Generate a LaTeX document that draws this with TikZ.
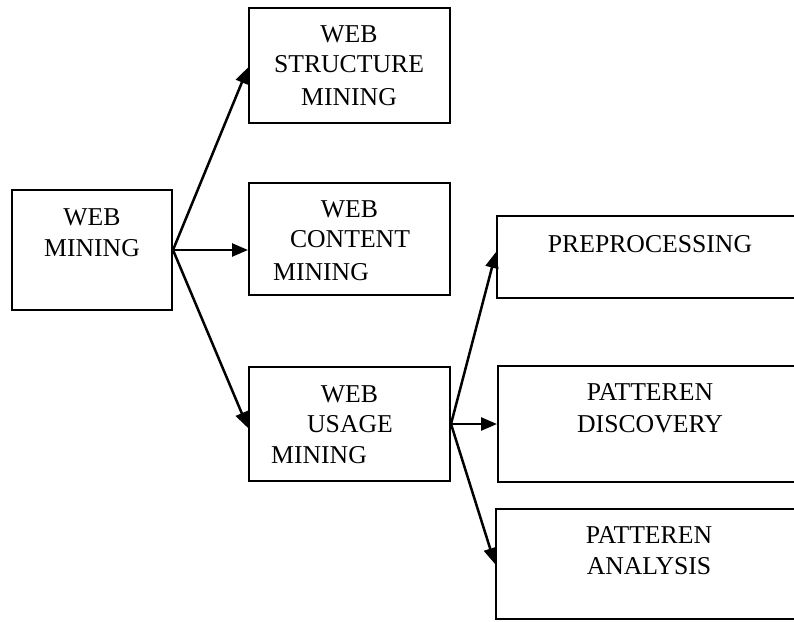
\documentclass[tikz,border=0pt]{standalone}
\usepackage{fontspec}
\setmainfont{Liberation Serif}
\usetikzlibrary{arrows.meta}
\begin{document}
\begin{tikzpicture}[x=1pt,y=-1pt,
  box/.style={draw=black,line width=2pt,inner sep=0pt,rectangle},
  txt/.style={inner sep=0pt,anchor=base,font=\fontsize{25.7}{31}\selectfont},
  txtl/.style={txt,anchor=base west},
  arr/.style={line width=2.5pt,-{Triangle[length=16pt,width=13pt]}}]
\useasboundingbox (0,0) rectangle (794,621);
\clip (0,0) rectangle (794,621);
% boxes
\node[box,minimum width=160pt,minimum height=120pt] (wm) at (92,250) {};
\node[box,minimum width=201pt,minimum height=115pt] (ws) at (349.5,65.5) {};
\node[box,minimum width=201pt,minimum height=112pt] (wc) at (349.5,239) {};
\node[box,minimum width=201pt,minimum height=114pt] (wu) at (349.5,424) {};
\node[box,minimum width=303pt,minimum height=82pt] (pp) at (648.5,257) {};
\node[box,minimum width=302pt,minimum height=116pt] (pd) at (649,424) {};
\node[box,minimum width=304pt,minimum height=110pt] (pa) at (648,564) {};
% texts
\node[txt] (wm1) at (92,225) {WEB};
\node[txt] (wm2) at (92,256) {MINING};
\node[txt] (ws1) at (349,42) {WEB};
\node[txt] (ws2) at (349,72) {STRUCTURE};
\node[txt] (ws3) at (349,105) {MINING};
\node[txt] (wc1) at (349.5,217) {WEB};
\node[txt] (wc2) at (350,247) {CONTENT};
\node[txtl] (wc3) at (273,280) {MINING};
\node[txt] (wu1) at (349.5,402) {WEB};
\node[txt] (wu2) at (350,432) {USAGE};
\node[txtl] (wu3) at (271,463) {MINING};
\node[txt] (pp1) at (650,252) {PREPROCESSING};
\node[txt] (pd1) at (650,400) {PATTEREN};
\node[txt] (pd2) at (650,432) {DISCOVERY};
\node[txt] (pa1) at (649,543) {PATTEREN};
\node[txt] (pa2) at (649,574) {ANALYSIS};
% connectors
\draw[arr] (wm.east) -- ([yshift=-2pt]ws.west);
\draw[arr] (wm.east) -- (wc.west |- wm.east);
\draw[arr] (wm.east) -- ([yshift=-4pt]wu.west);
\draw[arr] (wu.east) -- ([yshift=5pt]pp.west);
\draw[arr] (wu.east) -- (pd.west);
\draw[arr] (wu.east) -- (pa.west);
\end{tikzpicture}
\end{document}
